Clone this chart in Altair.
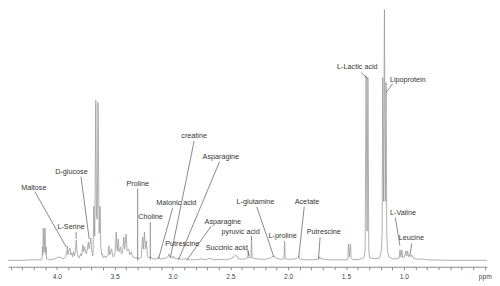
import altair as alt
import pandas as pd

# ---- spectrum (chemical shift in ppm, intensity in arbitrary units) ----
ppm = [4.422, 4.30, 4.20, 4.135, 4.127, 4.124, 4.121, 4.117, 4.110, 4.102, 4.097, 4.093, 4.088,
       4.06, 4.03, 4.00, 3.98, 3.96, 3.94, 3.925, 3.915, 3.909, 3.904, 3.898, 3.886, 3.879, 3.872,
       3.864, 3.857, 3.848, 3.840, 3.832, 3.825, 3.815, 3.805, 3.795, 3.787, 3.775, 3.768, 3.760,
       3.752, 3.744, 3.736, 3.727, 3.721, 3.714, 3.706, 3.699, 3.690, 3.686, 3.680, 3.672, 3.663,
       3.657, 3.650, 3.644, 3.634, 3.626, 3.620, 3.612, 3.606, 3.598, 3.585, 3.575, 3.557, 3.549,
       3.543, 3.526, 3.518, 3.510, 3.496, 3.487, 3.478, 3.469, 3.462, 3.449, 3.441, 3.430, 3.421,
       3.414, 3.401, 3.393, 3.378, 3.370, 3.355, 3.345, 3.330, 3.300, 3.290, 3.270, 3.258, 3.252,
       3.242, 3.235, 3.225, 3.217, 3.205, 3.190, 3.175, 3.160, 3.130, 3.121, 3.110, 3.080, 3.050,
       3.035, 3.030, 3.025, 3.010, 2.995, 2.990, 2.960, 2.950, 2.930, 2.880, 2.850, 2.80, 2.75,
       2.72, 2.68, 2.64, 2.60, 2.55, 2.50, 2.47, 2.455, 2.445, 2.43, 2.40, 2.37, 2.35, 2.345, 2.340,
       2.322, 2.317, 2.312, 2.28, 2.20, 2.15, 2.13, 2.11, 2.07, 2.037, 2.031, 2.025, 1.98, 1.94,
       1.915, 1.909, 1.903, 1.85, 1.78, 1.735, 1.727, 1.72, 1.65, 1.55, 1.49, 1.484, 1.479, 1.4705,
       1.462, 1.456, 1.44, 1.38, 1.345, 1.335, 1.327, 1.318, 1.311, 1.303, 1.295, 1.25, 1.21,
       1.195, 1.188, 1.183, 1.176, 1.168, 1.161, 1.154, 1.148, 1.142, 1.13, 1.10, 1.06, 1.040,
       1.034, 1.026, 1.017, 1.011, 0.995, 0.983, 0.976, 0.968, 0.960, 0.949, 0.940, 0.931, 0.92,
       0.90, 0.87, 0.837, 0.80, 0.60, 0.281]
intensity = [0.5, 0.5, 1, 1, 3, 14, 6, 33, 9, 33, 7, 14, 2,
             1, 1.5, 3, 4, 3, 2, 4, 8, 15, 6, 9, 13, 6, 8,
             4, 9, 5, 10, 21, 8, 4, 3, 7, 5, 16, 9, 14,
             10, 7, 12, 19, 12, 17, 23, 11, 5, 10, 55, 25, 162,
             45, 42, 160, 28, 55, 15, 6, 7, 3, 5, 3, 6, 15,
             6, 12, 5, 4, 8, 29, 10, 22, 9, 14, 7, 10, 24,
             12, 27, 10, 12, 6, 9, 4, 3, 3, 2, 4, 24, 12,
             29, 12, 20, 5, 3, 4, 2, 2, 2, 4, 2, 2, 3,
             5, 7, 4, 3, 5, 3, 2, 3, 1.5, 2, 1, 1, 2,
             1, 2.5, 1, 1.5, 1, 2, 4, 6, 5, 2, 1.5, 2, 3, 10, 3,
             3, 22, 3, 2, 1.5, 3, 5, 3, 1.5, 2, 20, 2, 1.5, 2,
             3, 5, 2, 1, 1, 2, 4, 2, 1, 1, 1, 3, 17, 4,
             17, 3, 1, 1.5, 3, 10, 187, 30, 185, 10, 3, 2, 3,
             10, 28, 185, 60, 258, 60, 180, 28, 10, 4, 2, 2, 3,
             11, 4, 11, 3, 4, 10, 5, 10, 4, 7, 4, 6, 3,
             2, 1.5, 2, 1, 0.5, 0.5]

# ---- metabolite annotations ----
labels = ["Maltose", "D-glucose", "L-Serine", "Proline", "Choline", "Malonic acid",
          "Putrescine", "creatine", "Asparagine", "Asparagine", "pyruvic acid",
          "Succinic acid", "L-glutamine", "L-proline", "Acetate", "Putrescine",
          "L-Lactic acid", "Lipoprotein", "L-Valine", "Leucine"]
label_ppm = [4.199, 3.874, 3.877, 3.301, 3.190, 2.967, 2.916, 2.813, 2.582, 2.565, 2.411,
             2.531, 2.283, 2.048, 1.838, 1.693, 1.402, 0.966, 1.008, 0.936]
label_int = [74, 90, 34, 78, 44, 58, 17, 126, 105, 39, 29, 13, 59, 25, 59, 29, 196, 183, 48, 23]

# leader lines: start (near label) -> end (at peak)
lead_ppm1 = [4.191, 3.791, 3.834, 3.301, 3.192, 2.998, 2.813, 2.594, 2.665, 2.317, 2.351,
             2.272, 1.861, 1.724, 1.368, 1.096, 1.074, 0.931]
lead_int1 = [70, 85, 29, 73, 39, 53.5, 121, 100, 35, 25, 11, 54.7, 54.7, 23.7, 190, 179, 43.7, 17.7]
lead_ppm2 = [3.919, 3.720, 3.832, 3.301, 3.192, 3.121, 3.019, 2.950, 2.879, 2.317, 2.337,
             2.123, 1.909, 1.738, 1.310, 1.154, 1.034, 0.946]
lead_int2 = [14, 22, 22, 0, 1, 2, 3, 0.5, 0.3, 21, 5, 3.7, 3.7, 2, 184, 170, 15.3, 7]

# axis: minor ticks every 0.1 ppm, labels every 0.5 ppm, unit at the right end
tick_values = [4.4, 4.3, 4.2, 4.1, 4.0, 3.9, 3.8, 3.7, 3.6, 3.5, 3.4, 3.3, 3.2, 3.1, 3.0,
               2.9, 2.8, 2.7, 2.6, 2.5, 2.4, 2.3, 2.2, 2.1, 2.0, 1.9, 1.8, 1.7, 1.6, 1.5,
               1.4, 1.3, 1.2, 1.1, 1.0, 0.9, 0.8, 0.7, 0.6, 0.5, 0.4, 0.3]
label_ticks = ["4.0", "3.5", "3.0", "2.5", "2.0", "1.5", "1.0"]
unit_tick = "0.3"
unit_label = "ppm"

spec = pd.DataFrame({"ppm": ppm, "I": intensity})
ann = pd.DataFrame({"label": labels, "ppm": label_ppm, "I": label_int})
lead = pd.DataFrame({"ppm": lead_ppm1, "I": lead_int1, "ppm2": lead_ppm2, "I2": lead_int2})

FONT = "Liberation Sans"
xscale = alt.Scale(domain=[0.281, 4.422], reverse=True, nice=False, zero=False)
yscale = alt.Scale(domain=[-6, 254], nice=False, zero=False)

label_list = "[" + ",".join("'%s'" % s for s in label_ticks) + "]"
label_expr = (f"indexof({label_list}, format(datum.value, '.1f')) >= 0 ? format(datum.value, '.1f') : "
              f"(format(datum.value, '.1f') == '{unit_tick}' ? '{unit_label}' : '')")

xaxis = alt.Axis(values=tick_values, labelExpr=label_expr, title=None, grid=False,
                 domainColor="#8a8a8a", tickColor="#8a8a8a", tickSize=3,
                 labelFont=FONT, labelFontSize=6.8, labelColor="#333333", labelOpacity=0.99,
                 labelPadding=4, labelOverlap=False, labelFlush=False, labelSeparation=0)
yaxis = alt.Axis(title=None, labels=False, ticks=False, domain=False, grid=False)

line = alt.Chart(spec).mark_line(color="#9a9a9a", strokeWidth=0.8, clip=True).encode(
    x=alt.X("ppm:Q", scale=xscale, axis=xaxis),
    y=alt.Y("I:Q", scale=yscale, axis=yaxis),
)

leaders = alt.Chart(lead).mark_rule(color="#555555", strokeWidth=0.7).encode(
    x=alt.X("ppm:Q", scale=xscale, axis=xaxis), x2="ppm2:Q",
    y=alt.Y("I:Q", scale=yscale, axis=yaxis), y2="I2:Q",
)

texts = alt.Chart(ann).mark_text(font=FONT, fontSize=7.3, color="#333333", opacity=0.99,
                                 baseline="middle", align="center").encode(
    x=alt.X("ppm:Q", scale=xscale, axis=xaxis),
    y=alt.Y("I:Q", scale=yscale, axis=yaxis),
    text="label:N",
)

chart = alt.layer(line, leaders, texts).properties(
    width=484, height=260, padding=0
).configure_view(stroke=None)

chart.save("out.html", embed_options={"renderer": "svg", "actions": False})
